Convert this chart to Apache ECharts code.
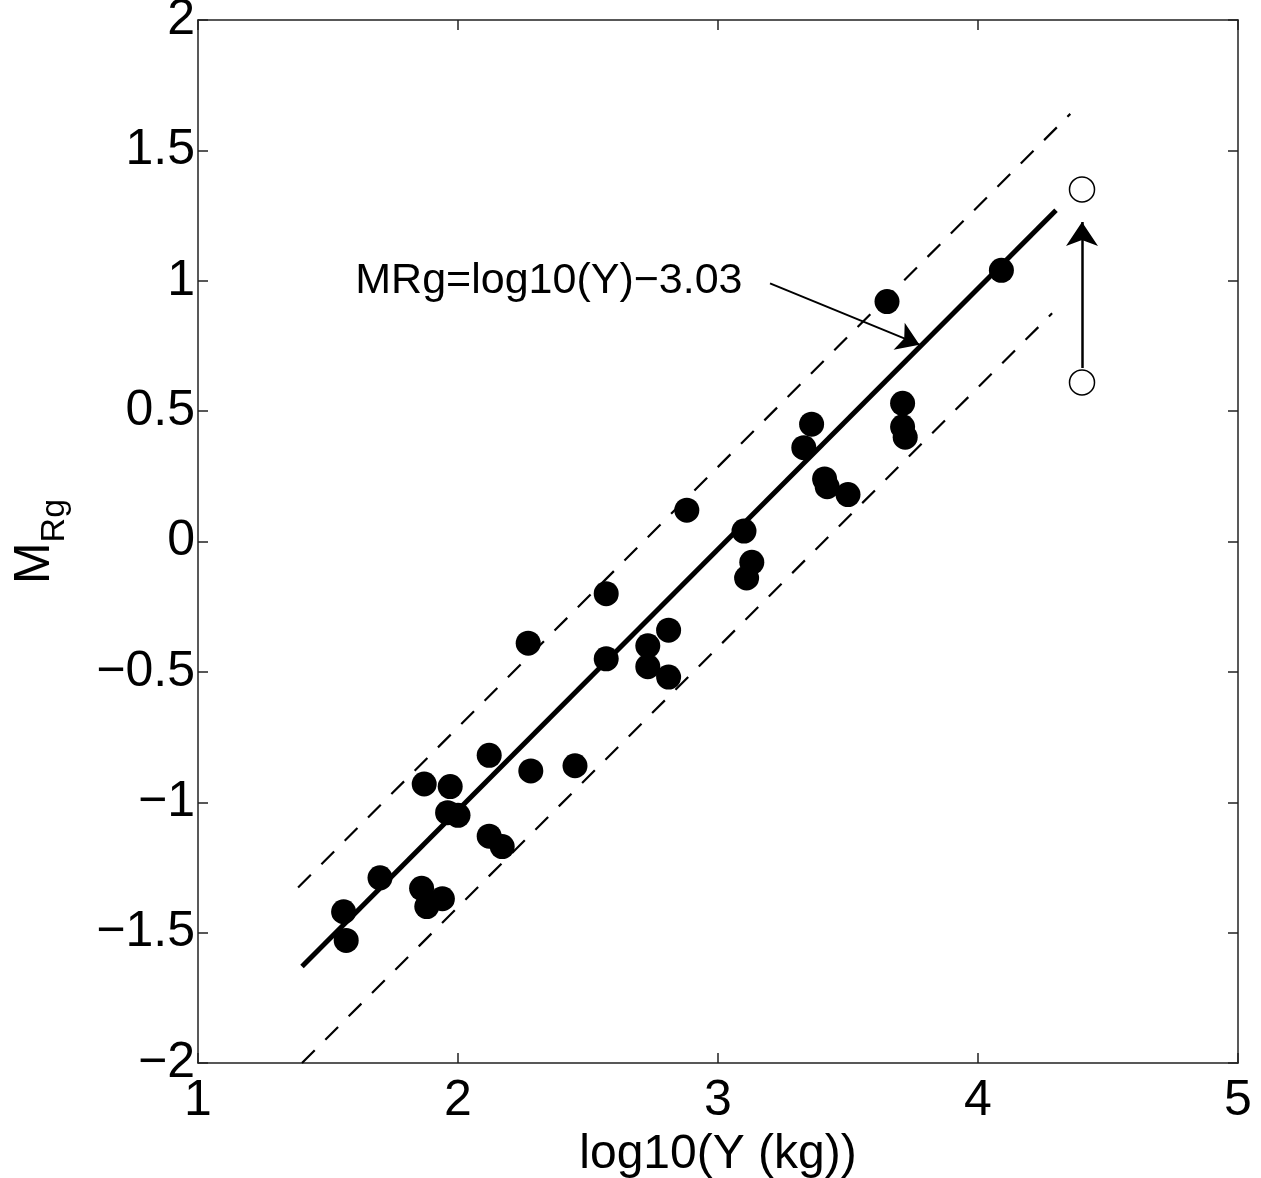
<!DOCTYPE html>
<html>
<head>
<meta charset="utf-8">
<script src="https://cdn.jsdelivr.net/npm/echarts@6/dist/echarts.min.js"></script>
<style>
html,body{margin:0;padding:0;background:#fff;}
#c{width:1261px;height:1178px;}
</style>
</head>
<body>
<div id="c"></div>
<script>
// Filled points: [log10(Y), MRg]
const measuredPoints = [
  [4.09, 1.04], [3.65, 0.92], [3.71, 0.53], [3.71, 0.44], [3.72, 0.40],
  [3.36, 0.45], [3.33, 0.36], [3.41, 0.24], [3.42, 0.21], [3.50, 0.18],
  [3.10, 0.04], [3.13, -0.08], [3.11, -0.14], [2.88, 0.12], [2.57, -0.20],
  [2.57, -0.45], [2.81, -0.34], [2.73, -0.40], [2.73, -0.48], [2.81, -0.52],
  [2.27, -0.39], [2.12, -0.82], [2.28, -0.88], [2.45, -0.86], [1.87, -0.93],
  [1.97, -0.94], [1.96, -1.04], [2.00, -1.05], [2.12, -1.13], [2.17, -1.17],
  [1.70, -1.29], [1.86, -1.33], [1.94, -1.37], [1.88, -1.40], [1.56, -1.42],
  [1.57, -1.53]
];
// Open circles (shifted estimate)
const openPoints = [[4.40, 1.35], [4.40, 0.61]];
// Fit line and bounds (end points)
const fitLine = [[1.40, -1.63], [4.30, 1.27]];
const upperBound = [[1.385, -1.327], [4.355, 1.64]];
const lowerBound = [[1.40, -2.00], [4.285, 0.875]];
// Arrows
const shiftArrow = [[4.40, 0.665], [4.40, 1.225]];
const labelArrow = [[3.20, 0.99], [3.775, 0.755]];
const annotationPos = [[1.605, 1.0]];
const annotationText = 'MRg=log10(Y)\u22123.03';
// Axes
const xTicks = {min: 1, max: 5, interval: 1};
const yTicks = {min: -2, max: 2, interval: 0.5};
const xName = 'log10(Y (kg))';

const FONT = 'Liberation Sans, Arial, Helvetica, sans-serif';
const axisLineStyle = {color: '#222', width: 1.5};
const fmtY = v => String(v).replace('-', '\u2212');

const chart = echarts.init(document.getElementById('c'));
chart.setOption({
  animation: false,
  backgroundColor: '#fff',
  grid: {left: 198, right: 23, top: 20, bottom: 115, containLabel: false, outerBoundsMode: 'none'},
  xAxis: [
    {
      type: 'value', position: 'bottom', min: xTicks.min, max: xTicks.max, interval: xTicks.interval,
      axisLine: {show: true, onZero: false, lineStyle: axisLineStyle},
      axisTick: {show: true, inside: true, length: 10, lineStyle: axisLineStyle},
      axisLabel: {fontSize: 50, fontFamily: FONT, color: '#000', margin: 13},
      splitLine: {show: false},
      name: xName, nameLocation: 'middle', nameGap: 67,
      nameTextStyle: {fontSize: 48, fontFamily: FONT, color: '#000'}
    },
    {
      type: 'value', position: 'top', min: xTicks.min, max: xTicks.max, interval: xTicks.interval,
      axisLine: {show: true, onZero: false, lineStyle: axisLineStyle},
      axisTick: {show: true, inside: true, length: 10, lineStyle: axisLineStyle},
      axisLabel: {show: false}, splitLine: {show: false}
    }
  ],
  yAxis: [
    {
      type: 'value', position: 'left', min: yTicks.min, max: yTicks.max, interval: yTicks.interval,
      axisLine: {show: true, onZero: false, lineStyle: axisLineStyle},
      axisTick: {show: true, inside: true, length: 10, lineStyle: axisLineStyle},
      axisLabel: {fontSize: 50, fontFamily: FONT, color: '#000', margin: 3, formatter: fmtY},
      splitLine: {show: false},
      name: '{m|M}{s|Rg}', nameLocation: 'middle', nameRotate: 90, nameGap: 126,
      nameTextStyle: {
        fontFamily: FONT, color: '#000',
        rich: {
          m: {fontSize: 50, fontFamily: FONT, color: '#000', verticalAlign: 'bottom', padding: [0, 0, 12, 0]},
          s: {fontSize: 34, fontFamily: FONT, color: '#000', verticalAlign: 'bottom'}
        }
      }
    },
    {
      type: 'value', position: 'right', min: yTicks.min, max: yTicks.max, interval: yTicks.interval,
      axisLine: {show: true, onZero: false, lineStyle: axisLineStyle},
      axisTick: {show: true, inside: true, length: 10, lineStyle: axisLineStyle},
      axisLabel: {show: false}, splitLine: {show: false}
    }
  ],
  series: [
    {
      type: 'line', data: upperBound, showSymbol: false, symbol: 'none',
      lineStyle: {color: '#000', width: 2.2, type: [18, 15]}, z: 2
    },
    {
      type: 'line', data: lowerBound, showSymbol: false, symbol: 'none',
      lineStyle: {color: '#000', width: 2.2, type: [18, 15]}, z: 2
    },
    {
      type: 'line', data: fitLine, showSymbol: false, symbol: 'none',
      lineStyle: {color: '#000', width: 5}, z: 3
    },
    {
      type: 'scatter', data: measuredPoints, symbol: 'circle', symbolSize: 25,
      itemStyle: {color: '#000', opacity: 1}, z: 4
    },
    {
      type: 'scatter', data: openPoints, symbol: 'circle', symbolSize: 25,
      itemStyle: {color: '#fff', borderColor: '#000', borderWidth: 1.5, opacity: 1}, z: 4
    },
    {
      type: 'lines', coordinateSystem: 'cartesian2d', z: 5,
      symbol: ['none', 'arrow'], symbolSize: 24,
      lineStyle: {color: '#000', width: 2.5, opacity: 1, curveness: 0},
      data: [{coords: shiftArrow}]
    },
    {
      type: 'lines', coordinateSystem: 'cartesian2d', z: 5,
      symbol: ['none', 'arrow'], symbolSize: 22,
      lineStyle: {color: '#000', width: 2, opacity: 1, curveness: 0},
      data: [{coords: labelArrow}]
    },
    {
      type: 'scatter', data: annotationPos, symbol: 'circle', symbolSize: 0,
      itemStyle: {color: '#000'}, z: 6, silent: true,
      label: {
        show: true, position: 'right', distance: 0, formatter: annotationText,
        fontSize: 43, fontFamily: FONT, color: '#000', opacity: 1
      }
    }
  ]
});
</script>
</body>
</html>
